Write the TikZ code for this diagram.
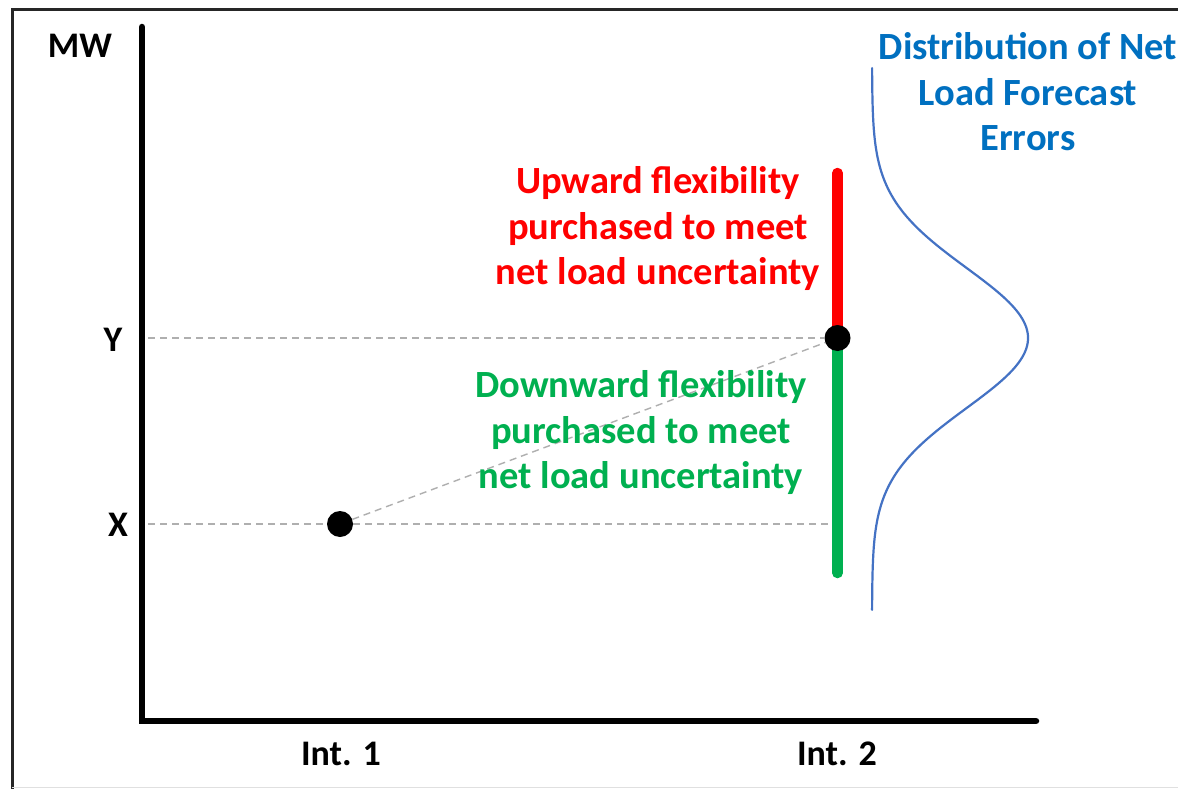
\documentclass[tikz,border=0pt]{standalone}
\usepackage{fontspec}
\setmainfont{Carlito}
\definecolor{upred}{RGB}{255,0,0}
\definecolor{downgreen}{RGB}{0,176,80}
\definecolor{titleblue}{RGB}{0,112,192}
\definecolor{curveblue}{RGB}{68,114,196}
\definecolor{guidegray}{RGB}{175,175,175}
\tikzset{
  lbl/.style={font=\fontsize{36}{43}\selectfont\bfseries, text=black, inner sep=0pt},
  bigtxt/.style={font=\fontsize{38.5}{45.5}\selectfont\bfseries, align=center, inner sep=0pt},
  dot/.style={circle, fill=black, minimum size=26pt, inner sep=0pt},
  guide/.style={draw=guidegray, line width=1.4pt, dash pattern=on 7pt off 5pt},
  bar/.style={line width=10.5pt, line cap=round},
}
\begin{document}
\begin{tikzpicture}[x=1pt,y=-1pt]
\useasboundingbox (0,0) rectangle (1178,789);
\fill[white] (0,0) rectangle (1178,789);
% frame
\draw[line width=3pt, black!85] (12,1000) -- (12,10) -- (1300,10);
\draw[line width=1pt, black!12] (12,787.5) -- (1178,787.5);
% axes
\coordinate (ytop) at (142,27);
\coordinate (origin) at (142,721);
\coordinate (xend) at (1036,721);
\draw[line width=6.5pt, line cap=round, line join=miter] (ytop) -- (origin) -- (xend);
% axis labels
\node[lbl] (mw) at (80,46) {MW};
\node[lbl] (ylab) at (113,340) {Y};
\node[lbl] (xlab) at (118,525) {X};
\node[lbl] (int1) at (341,754) {Int. 1};
\node[lbl] (int2) at (837,754) {Int. 2};
% guide coordinates
\coordinate (ystart) at (148,338);
\coordinate (xstart) at (148,524);
\coordinate (xstop) at (833,524);
% bars
\coordinate (redtop) at (837.5,173);
\coordinate (mid) at (837.5,338);
\coordinate (greenbot) at (837.5,573);
\draw[bar, upred] (redtop) -- (mid);
\draw[bar, downgreen] (mid) -- (greenbot);
% dots
\node[dot] (px) at (340,524) {};
\node[dot] (py) at (837.5,338) {};
% dashed guides
\draw[guide] (ystart) -- (py);
\draw[guide] (xstart) -- (px);
\draw[guide] (px) -- (xstop);
\draw[guide] (px) -- (py);
% texts
\node[bigtxt, text=upred] (uptxt) at (658,229) {Upward flexibility\\purchased to meet\\net load uncertainty};
\node[bigtxt, text=downgreen] (downtxt) at (641,433) {Downward flexibility\\purchased to meet\\net load uncertainty};
\node[bigtxt, text=titleblue] (title) at (1028,92) {Distribution of Net\\Load Forecast\\Errors};
% distribution curve
\draw[curveblue, line width=2.2pt, line cap=round] plot[domain=-3.857:3.886, samples=200, smooth] ({872+156*exp(-0.5*\x*\x)},{338+70*\x});
\end{tikzpicture}
\end{document}
